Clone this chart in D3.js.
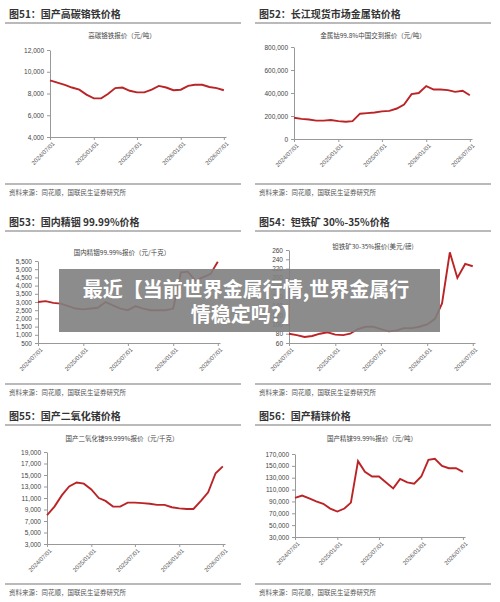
<!DOCTYPE html>
<html><head><meta charset="utf-8">
<script src="https://cdn.jsdelivr.net/npm/d3@7"></script>
<style>body{margin:0;background:#fff}svg{display:block;font-family:"Noto Sans CJK SC","Noto Sans",sans-serif}</style>
</head><body><svg id="c" width="500" height="602"></svg>
<script>
// monthly points, 2024/07 .. 2026/07
const months = d3.range(25).map(i => new Date(2024, 6 + i, 1))
const xTicks = ['2024/07/01', '2025/01/01', '2025/07/01', '2026/01/01', '2026/07/01']

const ferroChrome = [9200, 9000, 8800, 8550, 8350, 7900, 7550, 7550, 7950, 8500, 8550, 8250, 8100, 8100, 8350, 8700, 8550, 8300, 8350, 8700, 8800, 8800, 8600, 8500, 8300]
const cobalt = [185000, 175000, 170000, 160000, 160000, 165000, 155000, 150000, 155000, 220000, 225000, 230000, 240000, 245000, 265000, 300000, 390000, 400000, 460000, 430000, 430000, 425000, 410000, 420000, 380000]
const indium = [3000, 3050, 2950, 2900, 2750, 2600, 2550, 2600, 2650, 3000, 2800, 2600, 2500, 2750, 2600, 2500, 2500, 2500, 2600, 4800, 4850, 4300, 4500, 4700, 5450]
const tantalite = [80, 77, 73, 75, 80, 83, 78, 77, 80, 90, 95, 95, 90, 85, 87, 92, 92, 95, 100, 112, 145, 255, 200, 230, 225]
const germanium = [8000, 9500, 11500, 13000, 13700, 13500, 12500, 11000, 10500, 9500, 9500, 10200, 10200, 10100, 10000, 9800, 9800, 9400, 9200, 9100, 9100, 10500, 12000, 15300, 16500]
const rhenium = [96000, 100000, 95000, 90000, 86000, 78000, 73000, 78000, 88000, 158000, 140000, 132000, 132000, 122000, 112000, 128000, 122000, 120000, 132000, 160000, 162000, 150000, 146000, 146000, 140000]

const panels = [
  { head: '图51：国产高碳铬铁价格', title: '高碳铬铁报价（元/吨）', vals: ferroChrome, dom: [4000, 12000], ticks: d3.range(4000, 12001, 2000),
    ox: 0, oy: 0, x0: 50, x1: 224, y0: 50, y1: 137, ty: 38, tx: 122 },
  { head: '图52：长江现货市场金属钴价格', title: '金属钴99.8%中国交到报价（元/吨）', vals: cobalt, dom: [0, 800000], ticks: d3.range(0, 800001, 200000),
    ox: 250, oy: 0, x0: 44, x1: 220, y0: 47, y1: 139, ty: 38, tx: 123 },
  { head: '图53：国内精铟 99.99%价格', title: '国内精铟99.99%报价（元/千克）', vals: indium, dom: [500, 5500], ticks: d3.range(500, 5501, 500),
    ox: 0, oy: 200, x0: 38, x1: 218, y0: 61, y1: 143, ty: 55, tx: 122 },
  { head: '图54：钽铁矿 30%-35%价格', title: '钽铁矿30-35%报价(美元/磅)', vals: tantalite, dom: [60, 260], ticks: d3.range(60, 261, 20),
    ox: 250, oy: 200, x0: 39, x1: 223, y0: 50, y1: 143, ty: 49, tx: 123 },
  { head: '图55：国产二氧化锗价格', title: '国产二氧化锗99.999%报价（元/千克）', vals: germanium, dom: [3000, 19000], ticks: d3.range(3000, 19001, 2000),
    ox: 0, oy: 400, x0: 47, x1: 223, y0: 52, y1: 144, ty: 41, tx: 122 },
  { head: '图56：国产精铼价格', title: '国产精铼99.99%报价（元/吨）', vals: rhenium, dom: [30000, 170000], ticks: d3.range(30000, 170001, 20000),
    ox: 250, oy: 400, x0: 45, x1: 213, y0: 54, y1: 137, ty: 41, tx: 122 }
]
const headY = [14, 22, 16]

const svg = d3.select('#c')
const fmt = d3.format(',')
const red = '#bb2426'

panels.forEach((p, i) => {
  const row = Math.floor(i / 2)
  const g = svg.append('g').attr('transform', `translate(${p.ox},${p.oy})`)
  const hy = headY[row]
  g.append('text').attr('x', 9).attr('y', hy + 4).attr('font-size', 10).attr('font-weight', 'bold').attr('fill', '#333').text(p.head)
  g.append('line').attr('x1', 5).attr('x2', 241).attr('y1', hy + 9).attr('y2', hy + 9).attr('stroke', '#777').attr('stroke-width', 1.2)
  g.append('line').attr('x1', 5).attr('x2', 241).attr('y1', 184).attr('y2', 184).attr('stroke', '#777').attr('stroke-width', 1.2)
  g.append('text').attr('x', 9).attr('y', 195).attr('font-size', 6.5).attr('fill', '#555').text('资料来源：同花顺，国联民生证券研究所')
  g.append('text').attr('x', p.tx).attr('y', p.ty).attr('text-anchor', 'middle').attr('font-size', 6.5).attr('fill', '#444').text(p.title)

  const x = d3.scaleTime().domain([months[0], new Date(2026, 6, 10)]).range([p.x0, p.x1 + 2])
  const y = d3.scaleLinear().domain(p.dom).range([p.y1, p.y0])

  const xa = g.append('g').attr('transform', `translate(0,${p.y1})`)
    .call(d3.axisBottom(x).tickValues(xTicks.map(d3.timeParse('%Y/%m/%d'))).tickFormat(d3.timeFormat('%Y/%m/%d')).tickSize(3).tickSizeOuter(0))
  xa.selectAll('text').attr('transform', 'rotate(-45)').attr('text-anchor', 'end').attr('dx', '-0.3em').attr('dy', '0.4em')
    .attr('font-size', 6).attr('fill', '#555')
  const ya = g.append('g').attr('transform', `translate(${p.x0},0)`)
    .call(d3.axisLeft(y).tickValues(p.ticks).tickFormat(fmt).tickSize(3).tickSizeOuter(0))
  ya.selectAll('text').attr('font-size', 6.5).attr('fill', '#444')
  g.selectAll('.domain,.tick line').attr('stroke', '#999')

  g.append('path').datum(p.vals).attr('fill', 'none').attr('stroke', red).attr('stroke-width', 1.9)
    .attr('d', d3.line().x((d, k) => x(months[k])).y(d => y(d)))
})

svg.append('rect').attr('x', 59).attr('y', 269).attr('width', 381).attr('height', 63).attr('fill', '#7f7f7f').attr('opacity', 0.9)
const banner = ['最近【当前世界金属行情,世界金属行', '情稳定吗?】']
banner.forEach((t, i) => svg.append('text').attr('x', 246).attr('y', 297 + i * 25).attr('text-anchor', 'middle')
  .attr('font-size', 20).attr('font-weight', 'bold').attr('fill', '#fff').text(t))
</script></body></html>
